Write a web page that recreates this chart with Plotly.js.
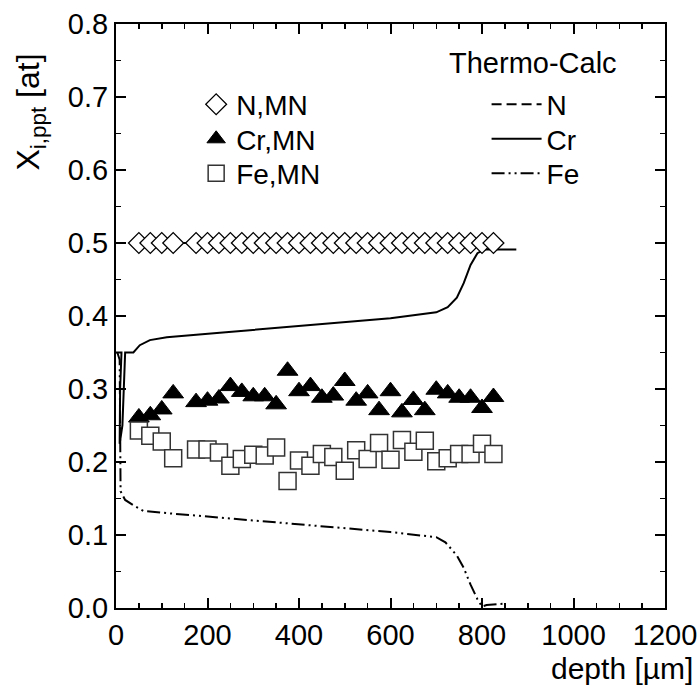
<!DOCTYPE html>
<html><head><meta charset="utf-8">
<script src="https://cdn.plot.ly/plotly-3.0.1.min.js"></script>
<style>body{margin:0;background:#fff}#g{width:699px;height:691px}</style>
</head><body><div id="g"></div>
<script>
// measured (MN) data
var depthMN = [50,75,100,125,175,200,225,250,275,300,325,350,375,400,425,450,475,500,525,550,575,600,625,650,675,700,725,750,775,800,825];
var nMN = [0.5,0.5,0.5,0.5,0.5,0.5,0.5,0.5,0.5,0.5,0.5,0.5,0.5,0.5,0.5,0.5,0.5,0.5,0.5,0.5,0.5,0.5,0.5,0.5,0.5,0.5,0.5,0.5,0.5,0.5,0.5];
var crMN = [0.261,0.264,0.272,0.294,0.282,0.284,0.287,0.304,0.296,0.290,0.290,0.279,0.325,0.297,0.304,0.288,0.291,0.311,0.284,0.294,0.271,0.297,0.268,0.285,0.271,0.299,0.294,0.288,0.288,0.274,0.289];
var feMN = [0.243,0.236,0.228,0.205,0.217,0.217,0.213,0.195,0.204,0.210,0.209,0.220,0.174,0.202,0.195,0.211,0.207,0.188,0.216,0.204,0.226,0.203,0.230,0.214,0.229,0.201,0.205,0.211,0.211,0.225,0.211];
// Thermo-Calc curves
var depthN = [0,830];
var nTC = [0.5,0.5];
var depthCr = [0,12,9,8,14,20,38,52,74,111,227,400,600,700,725,745,760,775,790,805,875];
var crTC = [0.35,0.35,0.30,0.225,0.25,0.35,0.35,0.36,0.367,0.371,0.377,0.386,0.397,0.405,0.412,0.425,0.445,0.47,0.486,0.491,0.491];
var depthFe = [3,8,10,20,40,60,111,227,400,600,700,720,745,760,775,790,800,810,850];
var feTC = [0.35,0.34,0.16,0.148,0.14,0.133,0.13,0.124,0.115,0.104,0.097,0.09,0.072,0.055,0.032,0.012,0.002,0.004,0.006];

var F = 'Liberation Sans, Arial, Helvetica, sans-serif';
var traces = [
  {x:depthN, y:nTC, mode:'lines', name:'N', legend:'legend4', line:{color:'#000', width:2, dash:'10px,5px'}},
  {x:depthCr, y:crTC, mode:'lines', name:'Cr', legend:'legend5', line:{color:'#000', width:2}},
  {x:depthFe, y:feTC, mode:'lines', name:'Fe', legend:'legend6', line:{color:'#000', width:2, dash:'13px,4px,2px,4px,2px,4px'}},
  {x:depthMN, y:nMN, mode:'markers', name:'N,MN', legend:'legend', marker:{symbol:'diamond', size:16, color:'#fff', line:{color:'#000', width:1.3}}},
  {x:depthMN, y:crMN, mode:'markers', name:'Cr,MN', legend:'legend2', marker:{symbol:'triangle-up', size:18, color:'#000', line:{color:'#000', width:1}}},
  {x:depthMN, y:feMN, mode:'markers', name:'Fe,MN', legend:'legend3', marker:{symbol:'square', size:17, color:'#fff', line:{color:'#333', width:1.5}}}
];
var ax = {
  showgrid:false, zeroline:false, showline:true, linecolor:'#000', linewidth:2,
  mirror:'ticks', ticks:'inside', ticklen:10, tickwidth:2, tickcolor:'#000',
  tickfont:{family:F, size:29, color:'#000'}
};
function leg(x, y, w) {
  return {x:x, y:y, xanchor:'left', yanchor:'top', bgcolor:'rgba(0,0,0,0)',
    font:{family:F, size:28, color:'#000'}, itemwidth:w};
}
var rowY = [0.9048, 0.8457, 0.7866];
var layout = {
  width:699, height:691, margin:{l:116, r:34, t:24, b:83},
  paper_bgcolor:'#fff', plot_bgcolor:'#fff', showlegend:true,
  xaxis: Object.assign({}, ax, {range:[0,1200], dtick:200, tick0:0,
    minor:{dtick:50, ticks:'inside', ticklen:5, tickwidth:1.5, tickcolor:'#000'}}),
  yaxis: Object.assign({}, ax, {range:[0,0.8], dtick:0.1, tick0:0, tickformat:'.1f',
    minor:{dtick:0.05, ticks:'inside', ticklen:5, tickwidth:1.5, tickcolor:'#000'}}),
  legend: leg(0.146, rowY[0], 30),
  legend2: leg(0.146, rowY[1], 30),
  legend3: leg(0.146, rowY[2], 30),
  legend4: leg(0.675, rowY[0], 50),
  legend5: leg(0.675, rowY[1], 50),
  legend6: leg(0.675, rowY[2], 50),
  annotations:[
    {text:'Thermo-Calc', xref:'paper', yref:'paper', x:0.916, y:0.933, xanchor:'right', yanchor:'middle', showarrow:false, font:{family:F, size:29, color:'#000'}},
    {text:'X<sub>i,ppt</sub> [at]', xref:'paper', yref:'paper', x:-0.155, y:0.85, xanchor:'center', yanchor:'middle', textangle:-90, showarrow:false, font:{family:F, size:32, color:'#000'}},
    {text:'depth [µm]', xref:'paper', yref:'paper', x:1.055, y:-0.104, xanchor:'right', yanchor:'middle', showarrow:false, font:{family:F, size:30, color:'#000'}}
  ]
};
Plotly.newPlot('g', traces, layout, {displayModeBar:false, staticPlot:true});
</script></body></html>
